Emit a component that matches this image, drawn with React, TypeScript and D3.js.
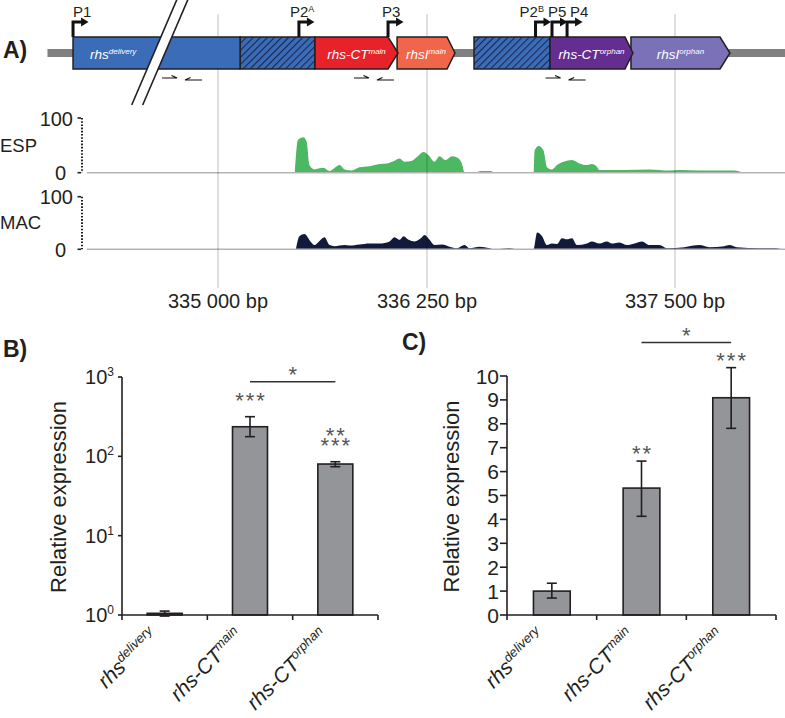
import React from 'react';
import * as d3 from 'd3';

const W = 785;
const H = 718;
const FONT = '"Liberation Sans", Arial, Helvetica, sans-serif';
const INK = '#231f20';

// ---- panel A: locus (bp) ----
const bpTicks = [335000, 336250, 337500];
const bpTickLabels = ['335 000 bp', '336 250 bp', '337 500 bp'];
const genomeSpan = [333980, 338300];
const axisBreak = 334650;

const genes = [
  { name: 'rhs', sup: 'delivery', start: 334133, end: 335132, tip: 335132, fill: '#3b6cb7' },
  { name: 'rhs-CT', sup: 'main', start: 335580, end: 336017, tip: 336077, fill: '#e8222b' },
  { name: 'rhsI', sup: 'main', start: 336071, end: 336351, tip: 336391, fill: '#f1654a' },
  { name: 'rhs-CT', sup: 'orphan', start: 336870, end: 337248, tip: 337288, fill: '#662d91' },
  { name: 'rhsI', sup: 'orphan', start: 337278, end: 337727, tip: 337777, fill: '#7a71b9' },
];
const hatched = [[335132, 335580], [336487, 336870]];

const promoters = [
  { label: 'P1', sup: '', at: 334133 },
  { label: 'P2', sup: 'A', at: 335484 },
  { label: 'P3', sup: '', at: 336017 },
  { label: 'P2', sup: 'B', at: 336797 },
  { label: 'P5', sup: '', at: 336880 },
  { label: 'P4', sup: '', at: 336956 },
];
const promoterLabelDx = [0, -9, -6, -16, -4, 3];
const primerPairs = [334782, 335930, 336946];

const espCoverage: [number, number][] = [
  [335460, 0], [335478, 60], [335510, 65], [335530, 57], [335547, 14], [335577, 6],
  [335607, 8], [335631, 9], [335667, 3], [335727, 14], [335757, 6], [335800, 4],
  [335846, 10], [335906, 12], [335966, 16], [336011, 17], [336056, 22], [336086, 26],
  [336116, 20], [336161, 22], [336191, 29], [336229, 38], [336258, 32], [336288, 20],
  [336313, 30], [336343, 23], [336376, 30], [336401, 28], [336426, 17], [336440, 0],
  [336495, 0], [336520, 3], [336570, 3], [336590, 0],
  [336787, 0], [336792, 40], [336812, 49], [336837, 41], [336855, 10], [336880, 6],
  [336905, 14], [336930, 19], [336955, 22], [336981, 23], [337018, 17], [337056, 14],
  [337081, 16], [337106, 11], [337119, 5], [337245, 5], [337371, 6], [337472, 4],
  [337522, 5], [337623, 4], [337799, 4], [337844, 0],
];
const macCoverage: [number, number][] = [
  [335466, 0], [335487, 25], [335517, 29], [335553, 15], [335577, 8], [335607, 16],
  [335637, 23], [335667, 8], [335697, 6], [335757, 8], [335787, 7], [335846, 9],
  [335906, 11], [335966, 11], [336026, 15], [336056, 23], [336086, 18], [336110, 25],
  [336140, 18], [336176, 15], [336220, 23], [336235, 27], [336263, 18], [336288, 8],
  [336326, 9], [336363, 5], [336401, 2], [336439, 8], [336464, 2], [336515, 5],
  [336565, 2], [336590, 0], [336666, 2], [336704, 0],
  [336787, 0], [336805, 32], [336830, 25], [336855, 8], [336880, 11], [336905, 10],
  [336930, 21], [336955, 19], [336981, 21], [337006, 8], [337056, 11], [337081, 15],
  [337119, 11], [337157, 15], [337182, 11], [337220, 13], [337258, 8], [337296, 11],
  [337334, 15], [337371, 8], [337422, 8], [337459, 2], [337547, 4], [337623, 8],
  [337673, 4], [337749, 6], [337774, 8], [337812, 4], [337925, 2], [338001, 2], [338039, 0],
];
const trackTicks = [0, 100];

// ---- panels B and C: qPCR ----
const targets = [
  { name: 'rhs', sup: 'delivery' },
  { name: 'rhs-CT', sup: 'main' },
  { name: 'rhs-CT', sup: 'orphan' },
];
const bMean = [1.05, 236, 80];
const bLow = [0.97, 177, 74];
const bHigh = [1.12, 316, 85.5];
const bStars = [[], ['***'], ['***', '**']];
const bTicks = [1, 10, 100, 1000];
const bTickExp = ['0', '1', '2', '3'];
const bBracket = { from: 1, to: 2, level: 870, label: '*' };

const cMean = [1.0, 5.31, 9.09];
const cLow = [0.71, 4.13, 7.81];
const cHigh = [1.33, 6.44, 10.35];
const cStars = [[], ['**'], ['***']];
const cTicks = d3.range(0, 11);
const cBracket = { from: 1, to: 2, level: 11.4, label: '*' };

// polylinear: the drawn locus is not to scale across the three grid ticks
const x = d3.scaleLinear().domain(bpTicks).range([218, 427, 675]);
const espY = d3.scaleLinear().domain([0, 100]).range([172.7, 118]);
const macY = d3.scaleLinear().domain([0, 100]).range([249.3, 196.7]);

const boxTop = 37, boxBot = 69, boxMid = 53;

function Locus() {
  const tracks = [
    { name: 'ESP', data: espCoverage, y: espY, fill: '#4db862', labelY: 152 },
    { name: 'MAC', data: macCoverage, y: macY, fill: '#121a3b', labelY: 229 },
  ];
  const xb = x(axisBreak);
  const slope = 0.4286;
  const bx = (y: number, o: number) => xb + o + (boxMid - y) * slope;
  return (
    <g>
      <defs>
        <pattern id="hatch" patternUnits="userSpaceOnUse" width="5" height="5" patternTransform="rotate(45)">
          <rect width="5" height="5" fill="#3b6cb7" />
          <line x1="0" y1="0" x2="0" y2="5" stroke="#1b2850" strokeWidth="2.2" />
        </pattern>
      </defs>

      {tracks.map((t) => {
        const area = d3.area<[number, number]>()
          .x((d) => x(d[0]))
          .y0(t.y(0))
          .y1((d) => t.y(d[1]))
          .curve(d3.curveMonotoneX);
        return (
          <g key={t.name}>
            <path d={area(t.data) || ''} fill={t.fill} />
            <line x1={87} x2={W} y1={t.y(0)} y2={t.y(0)} stroke="#b4b4b4" strokeWidth={1.5} />
            <line x1={82} x2={82} y1={t.y(100)} y2={t.y(0)} stroke={INK} strokeWidth={2} strokeDasharray="1.6 1.6" />
            {trackTicks.map((v) => (
              <g key={v}>
                <line x1={77.5} x2={81} y1={t.y(v)} y2={t.y(v)} stroke={INK} strokeWidth={1.6} />
                <text x={v === 0 ? 66 : 73} y={t.y(v) + 7.5} textAnchor="end" fontSize={20} fill="#231f20">{v}</text>
              </g>
            ))}
            <text x={0} y={t.labelY} textAnchor="start" fontSize={18.5} fill="#231f20">{t.name}</text>
          </g>
        );
      })}

      {bpTicks.map((b, i) => (
        <g key={b}>
          <line x1={x(b)} x2={x(b)} y1={14} y2={288} stroke="#000" strokeOpacity={0.25} strokeWidth={1} />
          <text x={x(b)} y={308} textAnchor="middle" fontSize={20} fill="#231f20">{bpTickLabels[i]}</text>
        </g>
      ))}

      <rect x={x(genomeSpan[0])} y={49} width={x(genomeSpan[1]) - x(genomeSpan[0])} height={8} fill="#808080" />

      {hatched.map(([s, e]) => (
        <rect key={s} x={x(s)} y={boxTop} width={x(e) - x(s)} height={boxBot - boxTop} fill="url(#hatch)" stroke={INK} strokeWidth={1.5} />
      ))}

      {genes.slice().reverse().map((g) => {
        const s = x(g.start), e = x(g.end), t = x(g.tip);
        const d = `M${s},${boxTop}L${e},${boxTop}L${t},${boxMid}L${e},${boxBot}L${s},${boxBot}Z`;
        const isFirst = g.sup === 'delivery';
        return (
          <g key={g.name + g.sup}>
            <path d={d} fill={g.fill} stroke={INK} strokeWidth={1.5} strokeLinejoin="miter" />
            <text x={isFirst ? s + 17 : (s + t) / 2} y={59} textAnchor={isFirst ? 'start' : 'middle'}
              fill="#fff" fontStyle="italic" fontSize={13.5}>
              {g.name}<tspan fontSize={8} dy={-5}>{g.sup}</tspan>
            </text>
          </g>
        );
      })}

      {/* axis break */}
      <polygon points={`${bx(-2, -5.5)},-2 ${bx(-2, 5.5)},-2 ${bx(105, 5.5)},105 ${bx(105, -5.5)},105`} fill="#fff" />
      {[-5.5, 5.5].map((o) => (
        <line key={o} x1={bx(-2, o)} y1={-2} x2={bx(105, o)} y2={105} stroke={INK} strokeWidth={1.6} />
      ))}

      {promoters.map((p, i) => {
        const px = x(p.at);
        return (
          <g key={i}>
            <path d={`M${px},${boxTop}V22H${px + 9}`} fill="none" stroke="#111" strokeWidth={3} />
            <path d={`M${px + 8},17.5L${px + 15.5},22L${px + 8},26.5Z`} fill="#111" />
            <text x={px + promoterLabelDx[i]} y={17} fontSize={15} fill="#231f20">
              {p.label}{p.sup && <tspan fontSize={9} dy={-5}>{p.sup}</tspan>}
            </text>
          </g>
        );
      })}

      {primerPairs.map((b) => {
        const c = x(b);
        return (
          <g key={b} stroke="#111" strokeWidth={1.2} fill="none">
            <path d={`M${c - 19.5},78H${c - 4.5}L${c - 10},75.5`} />
            <path d={`M${c + 20.5},80H${c + 3.5}L${c + 9},77.5`} />
          </g>
        );
      })}

      <text x={3} y={58} fontSize={23} fontWeight="bold" fill="#231f20">A)</text>
    </g>
  );
}

type BarProps = {
  xRange: [number, number];
  y: (v: number) => number;
  mean: number[];
  low: number[];
  high: number[];
  stars: string[][];
  starGap: number;
  bracket: { from: number; to: number; level: number; label: string };
  yTicks: number[];
  tickLabel: (v: number, i: number) => React.ReactNode;
  tickLen: number;
  titleX: number;
  base: number;
};

function BarPanel(p: BarProps) {
  const band = d3.scaleBand<number>().domain(d3.range(targets.length)).range(p.xRange).padding(0);
  const bw = band.bandwidth() * 0.41;
  const cx = (i: number) => (band(i) as number) + band.bandwidth() / 2;
  const y0 = p.y(p.base);
  const top = p.y(p.yTicks[p.yTicks.length - 1]);
  const boundaries = d3.range(targets.length + 1).map((i) => p.xRange[0] + i * band.step());
  return (
    <g fontFamily={FONT}>
      {p.mean.map((m, i) => (
        <g key={i}>
          <rect x={cx(i) - bw / 2} y={p.y(m)} width={bw} height={y0 - p.y(m)} fill="#939598" stroke={INK} strokeWidth={1.6} />
          <g stroke={INK} strokeWidth={1.6}>
            <line x1={cx(i)} x2={cx(i)} y1={p.y(p.low[i])} y2={p.y(p.high[i])} />
            <line x1={cx(i) - 5} x2={cx(i) + 5} y1={p.y(p.low[i])} y2={p.y(p.low[i])} />
            <line x1={cx(i) - 5} x2={cx(i) + 5} y1={p.y(p.high[i])} y2={p.y(p.high[i])} />
          </g>
          {p.stars[i].map((s, k) => (
            <text key={k} x={cx(i) + 1} y={p.y(p.high[i]) - p.starGap - k * 10} textAnchor="middle"
              fontSize={22} letterSpacing={2} fill="#555">{s}</text>
          ))}
          <text transform={`translate(${cx(i) - 6},637) rotate(-45)`} textAnchor="end" fontStyle="italic"
            fontSize={21} fill="#231f20">
            {targets[i].name}<tspan fontSize={13} dy={-8}>{targets[i].sup}</tspan>
          </text>
        </g>
      ))}

      <line x1={cx(p.bracket.from)} x2={cx(p.bracket.to)} y1={p.y(p.bracket.level)} y2={p.y(p.bracket.level)}
        stroke="#333" strokeWidth={1.5} />
      <text x={(cx(p.bracket.from) + cx(p.bracket.to)) / 2} y={p.y(p.bracket.level)} textAnchor="middle"
        fontSize={22} fill="#555">{p.bracket.label}</text>

      <line x1={p.xRange[0]} x2={p.xRange[0]} y1={top} y2={y0} stroke={INK} strokeWidth={1.6} />
      <line x1={p.xRange[0]} x2={p.xRange[1]} y1={y0} y2={y0} stroke={INK} strokeWidth={1.6} />
      {boundaries.map((b) => (
        <line key={b} x1={b} x2={b} y1={y0} y2={y0 + 5} stroke={INK} strokeWidth={1.6} />
      ))}
      {p.yTicks.map((v, i) => (
        <g key={v}>
          <line x1={p.xRange[0] - p.tickLen} x2={p.xRange[0]} y1={p.y(v)} y2={p.y(v)} stroke={INK} strokeWidth={1.6} />
          {p.tickLabel(v, i)}
        </g>
      ))}
      <text transform={`translate(${p.titleX},${(top + y0) / 2 + 1}) rotate(-90)`} textAnchor="middle"
        fontSize={22} fill="#231f20">Relative expression</text>
    </g>
  );
}

export default function App() {
  const bY = d3.scaleLog().domain([1, 1000]).range([615, 377]);
  const cY = d3.scaleLinear().domain([0, 10]).range([615, 376]);
  return (
    <svg width={W} height={H} viewBox={`0 0 ${W} ${H}`} fontFamily={FONT}
      style={{ position: 'absolute', left: 0, top: 0, background: '#fff' }}>
      <rect width={W} height={H} fill="#fff" />
      <Locus />

      <text x={3} y={357} fontSize={23} fontWeight="bold" fill="#231f20">B)</text>
      <BarPanel xRange={[122, 378]} y={bY} mean={bMean} low={bLow} high={bHigh} stars={bStars} starGap={9}
        bracket={bBracket} yTicks={bTicks} tickLen={4} titleX={66} base={1}
        tickLabel={(v, i) => (
          <text x={114} y={bY(v) + 7} textAnchor="end" fontSize={20} fill="#231f20">
            10<tspan fontSize={12} dy={-8}>{bTickExp[i]}</tspan>
          </text>
        )} />

      <text x={402} y={350} fontSize={23} fontWeight="bold" fill="#231f20">C)</text>
      <BarPanel xRange={[507, 776]} y={cY} mean={cMean} low={cLow} high={cHigh} stars={cStars} starGap={0}
        bracket={cBracket} yTicks={cTicks} tickLen={7} titleX={459} base={0}
        tickLabel={(v) => (
          <text x={499} y={cY(v) + 7.5} textAnchor="end" fontSize={21} fill="#231f20">{v}</text>
        )} />
    </svg>
  );
}
